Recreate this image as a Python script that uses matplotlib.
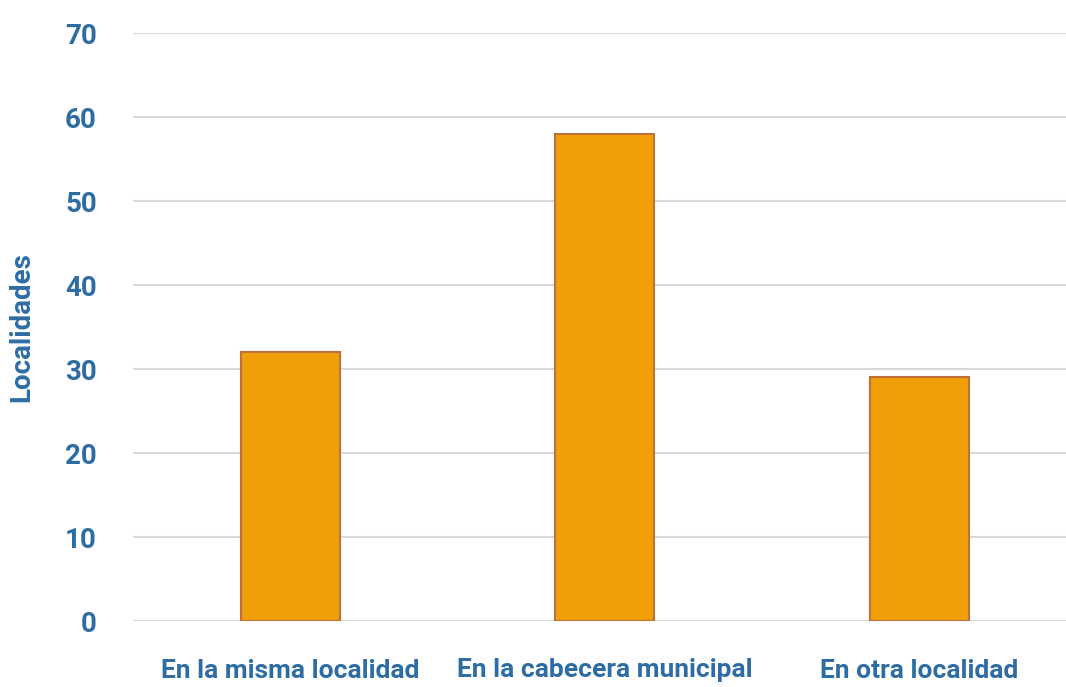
import numpy as np
import matplotlib
matplotlib.use('Agg')
import matplotlib.pyplot as plt

categories = ['En la misma localidad', 'En la cabecera municipal', 'En otra localidad']
values = [32, 58, 29]
yticks = [0, 10, 20, 30, 40, 50, 60, 70]


def main():
    plt.rcParams['font.family'] = ['Roboto', 'DejaVu Sans']
    blue = '#2E6DA4'

    fig = plt.figure(figsize=(10.66, 6.87), dpi=100)
    ax = fig.add_axes([133 / 1066, 66 / 687, 943.5 / 1066, 588 / 687])

    x = np.arange(len(categories))
    ax.bar(x, values, width=0.315, color='#F0A006', edgecolor='#C0703A',
           linewidth=1.5, zorder=3)

    ax.set_xlim(-0.5, 2.5)
    ax.set_ylim(0, 70)
    ax.set_yticks(yticks)
    ax.set_xticks(x)
    ax.set_xticklabels(categories)
    ax.grid(axis='y', color='#D9D9D9', linewidth=1.5, zorder=0)
    ax.set_axisbelow(True)
    for s in ax.spines.values():
        s.set_visible(False)
    ax.tick_params(length=0)
    ax.tick_params(axis='y', pad=26, labelsize=20, labelcolor=blue)
    ax.tick_params(axis='x', pad=27, labelsize=19, labelcolor=blue)
    for lbl in ax.get_xticklabels() + ax.get_yticklabels():
        lbl.set_fontweight('bold')

    ax.set_ylabel('Localidades', fontsize=20, fontweight='bold', color=blue)
    ax.yaxis.set_label_coords(-98 / 943.5, 0.5)

    fig.savefig('out.png', dpi=100)


if __name__ == '__main__':
    main()
